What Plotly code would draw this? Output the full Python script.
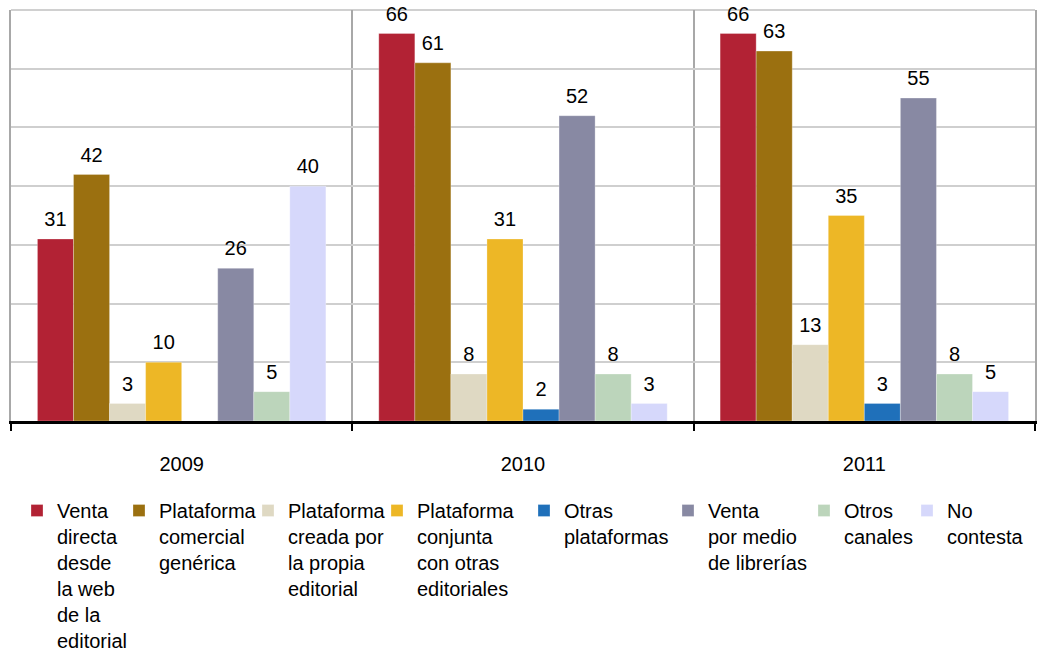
import plotly.graph_objects as go

years = ["2009", "2010", "2011"]

series_names = [
    "Venta<br>directa<br>desde<br>la web<br>de la<br>editorial",
    "Plataforma<br>comercial<br>genérica",
    "Plataforma<br>creada por<br>la propia<br>editorial",
    "Plataforma<br>conjunta<br>con otras<br>editoriales",
    "Otras<br>plataformas",
    "Venta<br>por medio<br>de librerías",
    "Otros<br>canales",
    "No<br>contesta",
]

venta_directa = [31, 66, 66]
plataforma_comercial = [42, 61, 63]
plataforma_propia = [3, 8, 13]
plataforma_conjunta = [10, 31, 35]
otras_plataformas = [None, 2, 3]
venta_librerias = [26, 52, 55]
otros_canales = [5, 8, 8]
no_contesta = [40, 3, 5]

values = [venta_directa, plataforma_comercial, plataforma_propia, plataforma_conjunta,
          otras_plataformas, venta_librerias, otros_canales, no_contesta]

colors = ["#B22234", "#9B7010", "#DFD9C3", "#EDB726",
          "#1F70BA", "#8889A3", "#BCD5BB", "#D6D8FB"]

FONT = "Liberation Sans, Arial, Helvetica, sans-serif"
W, H = 1039, 652

# left edge (pixels) where each legend text starts in the reference
legend_text_x = [55, 157, 286, 415, 562, 706, 842, 945]

# small lowered space on both sides -> a bit more room between bar top and number
PAD = "<span style='font-size:28px'><sub> </sub></span>"

fig = go.Figure()
for i, (name, vals, col) in enumerate(zip(series_names, values, colors)):
    lg = "legend" if i == 0 else "legend%d" % (i + 1)
    fig.add_trace(go.Bar(
        x=years, y=vals, name=name,
        marker=dict(color=col, line=dict(width=0.8, color="rgba(255,255,255,0.35)")),
        text=[("" if v is None else "%s%d%s" % (PAD, v, PAD)) for v in vals],
        textposition="outside",
        textfont=dict(size=20, color="black", family=FONT),
        constraintext="none",
        cliponaxis=False,
        legend=lg,
    ))

plot_l, plot_r, plot_t, plot_b = 11, 1035, 10, 421   # pixels
plot_h = plot_b - plot_t
plot_w = plot_r - plot_l

layout_legends = {}
for i, tx in enumerate(legend_text_x):
    key = "legend" if i == 0 else "legend%d" % (i + 1)
    layout_legends[key] = dict(
        x=(tx - 38 - plot_l) / plot_w, xanchor="left",
        y=(plot_b - 491) / plot_h, yanchor="top",
        orientation="v", valign="top",
        font=dict(size=20, color="black", family=FONT),
        bgcolor="rgba(0,0,0,0)", borderwidth=0,
    )

fig.update_layout(
    width=W, height=H,
    margin=dict(l=plot_l, r=W - plot_r, t=plot_t, b=H - plot_b, autoexpand=False),
    paper_bgcolor="white", plot_bgcolor="white",
    barmode="group", bargap=0.155, bargroupgap=0,
    font=dict(family=FONT, size=20, color="black"),
    showlegend=True,
    # light top border of the plot frame
    shapes=[dict(type="line", xref="paper", yref="paper", x0=0, x1=1, y0=1, y1=1,
                 line=dict(color="#d0d0d0", width=2), layer="below")],
    **layout_legends,
)

fig.update_xaxes(
    type="category", tickson="boundaries",
    showgrid=True, gridcolor="#a8a8a8", gridwidth=2,
    showline=True, linecolor="black", linewidth=2.5,
    ticks="outside", tickcolor="black", ticklen=7, tickwidth=2,
    tickfont=dict(size=20, family=FONT, color="black"),
    ticklabelstandoff=23,
    automargin=False,
)
fig.update_yaxes(
    range=[0, 70], dtick=10, showticklabels=False,
    showgrid=True, gridcolor="#cfcfcf", gridwidth=2,
    showline=True, linecolor="#a8a8a8", linewidth=2, mirror=True,
    zeroline=False, ticks="", automargin=False,
)

# drop the default 8px body margin so the figure fills the window exactly
fig.write_html("out.html", config={"displayModeBar": False},
               post_script="document.body.style.margin = '0px';")
